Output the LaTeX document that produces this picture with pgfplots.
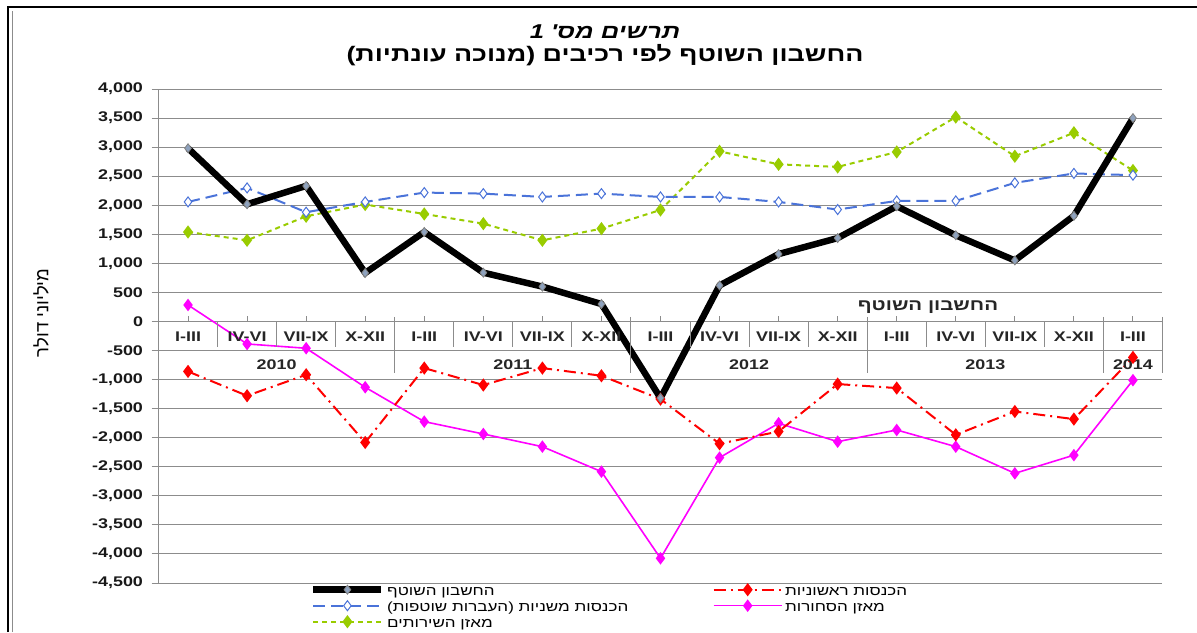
\documentclass[border=0pt]{standalone}
\usepackage{fontspec}
\setmainfont[FakeStretch=1.28]{Liberation Sans}
\newfontfamily\heb[Script=Hebrew, FakeStretch=1.28]{Liberation Sans}
\newfontfamily\hebN[Script=Hebrew]{Liberation Sans}
\usepackage{pgfplots}
\usepackage{pgfplotstable}
\pgfplotsset{compat=1.18}
\TeXXeTstate=1
\definecolor{cblue}{HTML}{4A73D9}
\definecolor{cgreen}{HTML}{99CC00}
\definecolor{cmag}{HTML}{FF00FF}
\definecolor{cred}{HTML}{FF0000}
\definecolor{cmark}{HTML}{8EA2BE}
\definecolor{gridc}{HTML}{8C8C8C}

\pgfplotstableread{
x cur prim sec goods serv
0 2980 -860 2057 284 1540
1 2017 -1278 2298 -387 1397
2 2333 -917 1880 -461 1810
3 835 -2082 2057 -1132 2012
4 1540 -802 2218 -1723 1850
5 840 -1094 2200 -1936 1683
6 600 -802 2143 -2154 1397
7 300 -934 2200 -2584 1597
8 -1318 -1336 2143 -4075 1919
9 620 -2104 2143 -2343 2928
10 1160 -1893 2057 -1752 2704
11 1435 -1077 1926 -2068 2659
12 1983 -1146 2074 -1867 2917
13 1483 -1950 2074 -2154 3517
14 1050 -1549 2385 -2613 2843
15 1818 -1680 2547 -2300 3247
16 3500 -619 2518 -1010 2598
}\data

\pgfplotsset{
  blk/.style={black, line width=6.5pt, mark=diamond*, mark size=4.5pt,
    mark options={fill=cmark, draw=gray, line width=0.8pt, solid}},
  blu/.style={cblue, line width=2pt, dash pattern=on 12pt off 6pt, mark=diamond*, mark size=5pt,
    mark options={fill=white, draw=cblue, line width=1pt, solid}},
  grn/.style={cgreen, line width=2pt, dash pattern=on 5pt off 4pt, mark=diamond*, mark size=5pt,
    mark options={fill=cgreen, draw=cgreen, solid}},
  rd/.style={cred, line width=2pt, dash pattern=on 12pt off 5pt on 2pt off 5pt, mark=diamond*, mark size=5pt,
    mark options={fill=cred, draw=cred, solid}},
  mg/.style={cmag, line width=1.6pt, mark=diamond*, mark size=5pt,
    mark options={fill=cmag, draw=cmag, solid}},
}
\tikzset{qlab/.style={font=\fontsize{14}{14}\selectfont\bfseries, text=black!85}}

\begin{document}
\begin{tikzpicture}
\useasboundingbox (0pt,0pt) rectangle (1197pt,632pt);
\fill[white] (0pt,0pt) rectangle (1197pt,632pt);
\draw[line width=2.5pt] (8pt,0pt) -- (8pt,625pt) -- (1197pt,625pt);
\draw[gridc, line width=1pt] (12pt,0pt) -- (12pt,621pt);

\node[font=\fontsize{20}{22}\selectfont\bfseries\itshape] at (605pt,600pt) {\heb\beginR תרשים מס' 1\endR};
\node[font=\fontsize{21}{23}\selectfont\bfseries] at (605pt,577pt) {\heb\beginR החשבון השוטף לפי רכיבים (מנוכה עונתיות)\endR};
\node[rotate=90, font=\fontsize{18.5}{20}\selectfont] at (41pt,319pt) {\hebN\beginR מיליוני דולר\endR};

\begin{axis}[
  at={(158.5pt,49pt)}, anchor=south west,
  width=1004pt, height=494pt, scale only axis,
  xmin=-0.5, xmax=16.5, ymin=-4500, ymax=4000,
  axis y line=left, axis x line=middle,
  axis line style={gridc, line width=1pt, -},
  x axis line style={-}, y axis line style={-},
  every inner x axis line/.append style={-},
  every outer y axis line/.append style={-},
  xtick=\empty,
  ytick={-4500,-4000,...,4000},
  ymajorgrids, grid style={gridc, line width=1pt},
  tick align=outside, major tick length=7pt,
  tick style={gridc, line width=1pt},
  y tick label style={font=\fontsize{14}{14}\selectfont\bfseries, text=black!90, xshift=-5pt,
     /pgf/number format/.cd, 1000 sep={,}, assume math mode=true},
  clip=false,
  legend columns=2,
  legend cell align=left,
  legend style={at={(0.1509,-0.003)}, anchor=north west, draw=none, fill=none,
     font=\fontsize{13.3}{14}\selectfont, inner sep=0pt, row sep=0pt,
     nodes={inner sep=0.5pt, text height=10.5pt, text depth=4.5pt},
     /tikz/every odd column/.append style={column sep=2pt},
     /tikz/every even column/.append style={column sep=0pt}},
  legend image code/.code={\draw[mark repeat=2, mark phase=2, #1] plot coordinates {(0pt,3pt) (34pt,3pt) (68pt,3pt)};},
]
\addlegendimage{blk}\addlegendentry{\heb\beginR החשבון השוטף\endR}
\addlegendimage{rd}\addlegendentry{\heb\beginR הכנסות ראשוניות\endR}
\addlegendimage{blu}\addlegendentry{\makebox[325pt][l]{\heb\beginR הכנסות משניות (העברות שוטפות)\endR}}
\addlegendimage{mg}\addlegendentry{\heb\beginR מאזן הסחורות\endR}
\addlegendimage{grn}\addlegendentry{\heb\beginR מאזן השירותים\endR}

\addplot[grn, forget plot] table[x=x, y=serv] {\data};
\addplot[blu, forget plot] table[x=x, y=sec] {\data};
\addplot[mg, forget plot] table[x=x, y=goods] {\data};
\addplot[rd, forget plot] table[x=x, y=prim] {\data};
\addplot[blk, forget plot] table[x=x, y=cur] {\data};

\pgfplotsinvokeforeach{0,...,16}{\draw[gridc, line width=1pt] (axis cs:#1,0) -- ++(0pt,5pt);}
\pgfplotsinvokeforeach{0.5,1.5,2.5,4.5,5.5,6.5,8.5,9.5,10.5,12.5,13.5,14.5}{\draw[gridc, line width=1pt] (axis cs:#1,0) -- (axis cs:#1,-440);}
\pgfplotsinvokeforeach{3.5,7.5,11.5,15.5,16.5}{\draw[gridc, line width=1pt] (axis cs:#1,80) -- (axis cs:#1,-883);}

\pgfplotsinvokeforeach{0,4,8,12,16}{\node[qlab] at (axis cs:#1,-270) {I-III};}
\pgfplotsinvokeforeach{1,5,9,13}{\node[qlab] at (axis cs:#1,-270) {IV-VI};}
\pgfplotsinvokeforeach{2,6,10,14}{\node[qlab] at (axis cs:#1,-270) {VII-IX};}
\pgfplotsinvokeforeach{3,7,11,15}{\node[qlab] at (axis cs:#1,-270) {X-XII};}
\node[qlab] at (axis cs:1.5,-745) {2010};
\node[qlab] at (axis cs:5.5,-745) {2011};
\node[qlab] at (axis cs:9.5,-745) {2012};
\node[qlab] at (axis cs:13.5,-745) {2013};
\node[qlab] at (axis cs:16,-745) {2014};
\node[font=\fontsize{16}{16}\selectfont\bfseries, text=black!85] at (axis cs:12.53,250) {\heb\beginR החשבון השוטף\endR};
\end{axis}
\end{tikzpicture}
\end{document}
